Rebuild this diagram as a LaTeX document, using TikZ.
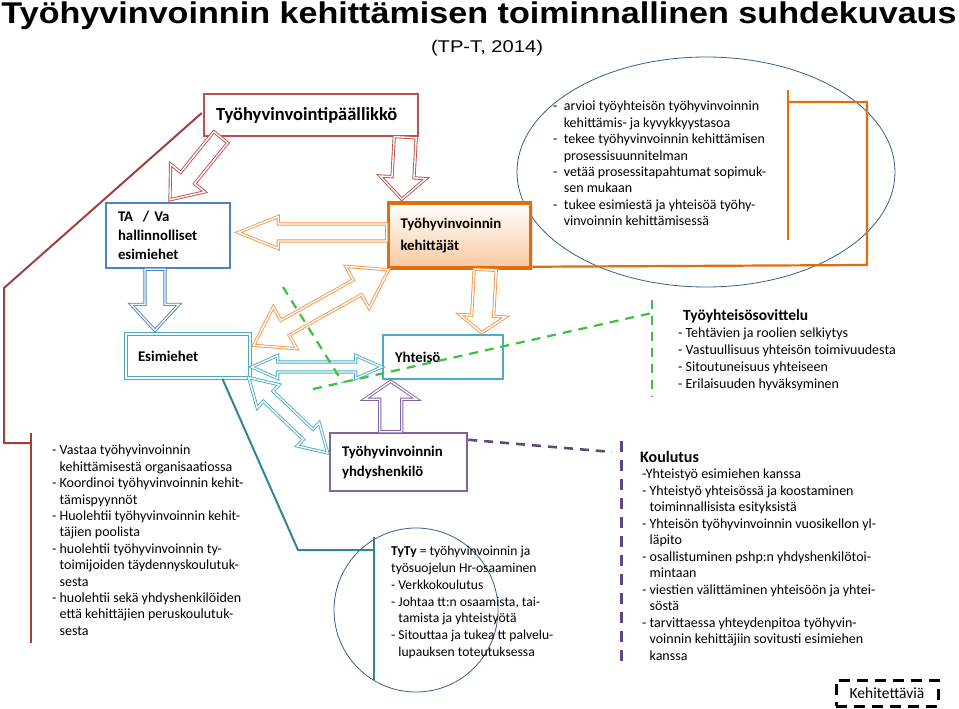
\documentclass[tikz,border=0pt]{standalone}
\usepackage{fontspec,graphicx}
\setmainfont{Carlito}
\newfontfamily\headfont{Liberation Sans}
\usetikzlibrary{calc,shadows}
\definecolor{BossRed}{HTML}{C0504D}
\definecolor{LineRed}{HTML}{A0403D}
\definecolor{TaBlue}{HTML}{4F81BD}
\definecolor{DevOrange}{HTML}{E46C0A}
\definecolor{ArrOrange}{HTML}{F79646}
\definecolor{DevFill}{HTML}{FAC9A0}
\definecolor{Teal}{HTML}{4BACC6}
\definecolor{TealDark}{HTML}{31849B}
\definecolor{Lilac}{HTML}{8064A2}
\definecolor{LilacDark}{HTML}{5F497A}
\definecolor{DashGreen}{HTML}{3EC03E}
\definecolor{EllBlue}{HTML}{385D8A}
\tikzset{box/.style={draw,line width=2.5pt,fill=white,inner xsep=12pt,align=left,
font=\fontsize{14.8}{19}\selectfont\bfseries},
listtext/.style={anchor=north west,inner sep=0pt,align=left,font=\fontsize{14}{16.4}\selectfont},
hollow/.style={line width=0.9pt,double=white,double distance=1.4pt,fill=white,line join=miter},
link/.style={line width=2.2pt},
dashlink/.style={line width=2.2pt,dash pattern=on 9pt off 7pt}}
% outlined block arrow: style, from, to, shaft half width, head half width, head length
\newcommand{\blockarrow}[6]{%
\draw[hollow,#1] ($(#2)!#4!90:(#3)$) -- ($(#3)!#6!(#2)!#4!-90:(#2)$) -- ($(#3)!#6!(#2)!#5!-90:(#2)$)
 -- (#3) -- ($(#3)!#6!(#2)!#5!90:(#2)$) -- ($(#3)!#6!(#2)!#4!90:(#2)$) -- ($(#2)!#4!-90:(#3)$) -- cycle;}
\newcommand{\dblarrow}[6]{%
\draw[hollow,#1] (#2) -- ($(#2)!#6!(#3)!#5!90:(#3)$) -- ($(#2)!#6!(#3)!#4!90:(#3)$)
 -- ($(#3)!#6!(#2)!#4!-90:(#2)$) -- ($(#3)!#6!(#2)!#5!-90:(#2)$) -- (#3)
 -- ($(#3)!#6!(#2)!#5!90:(#2)$) -- ($(#3)!#6!(#2)!#4!90:(#2)$)
 -- ($(#2)!#6!(#3)!#4!-90:(#3)$) -- ($(#2)!#6!(#3)!#5!-90:(#3)$) -- cycle;}
\begin{document}
\begin{tikzpicture}[x=1pt,y=-1pt]
\useasboundingbox (0,0) rectangle (959,709);
% heading
\node[anchor=base,inner sep=0pt] (title) at (479,24)
 {\resizebox{955pt}{\height}{\headfont\bfseries\fontsize{30}{30}\selectfont Työhyvinvoinnin kehittämisen toiminnallinen suhdekuvaus}};
\node[anchor=base,inner sep=0pt] (subtitle) at (487,53)
 {\resizebox{112pt}{\height}{\headfont\fontsize{17}{17}\selectfont (TP-T, 2014)}};
% ellipses
\draw[EllBlue,line width=0.8pt] (706,172) ellipse [x radius=189,y radius=115];
\draw[EllBlue,line width=0.8pt] (416,610) ellipse [x radius=82,y radius=82];
% boxes
\node[box,draw=BossRed,minimum width=214pt,minimum height=42pt,text width=190pt,font=\fontsize{18.5}{20}\selectfont\bfseries] (boss) at (311,115) {Työhyvinvointipäällikkö};
\node[box,draw=TaBlue,minimum width=122pt,minimum height=65pt,text width=100pt] (ta) at (168,235.5) {TA \ / Va\\hallinnolliset\\esimiehet};
\node[box,draw=DevOrange,line width=3.5pt,top color=white,bottom color=DevFill,drop shadow={opacity=0.25},
 minimum width=141pt,minimum height=65pt,text width=118pt,font=\fontsize{14.8}{22}\selectfont\bfseries] (dev) at (459.5,235.5) {Työhyvinvoinnin\\kehittäjät};
\node[box,draw=Teal,line width=1.3pt,double=white,double distance=1.6pt,minimum width=124pt,minimum height=44pt,text width=100pt] (esi) at (188,356) {Esimiehet};
\node[box,draw=Teal,minimum width=120pt,minimum height=44pt,text width=96pt] (yht) at (443,357) {Yhteisö\\[4pt]};
\node[box,draw=Lilac,minimum width=137pt,minimum height=58pt,text width=113pt,font=\fontsize{14.8}{20}\selectfont\bfseries] (yhd) at (398.5,462) {Työhyvinvoinnin\\yhdyshenkilö};
\node[draw=black,line width=3pt,dash pattern=on 11pt off 7pt,minimum width=102pt,minimum height=26pt,
 font=\fontsize{15.5}{16}\selectfont] (keh) at (887,693) {Kehitettäviä};
% anchor points of the block arrows
\coordinate (r1a) at ($(boss.south west)+(18,0)$);
\coordinate (r1b) at ($(ta.north)+(2,-2)$);
\coordinate (r2a) at ($(boss.south east)+(-14,0)$);
\coordinate (r2b) at ($(dev.north west)+(15,-2)$);
\coordinate (o1a) at ($(dev.west)+(0,-3)$);
\coordinate (o1b) at ($(ta.east)+(7,-3)$);
\coordinate (b1a) at ($(ta.south)+(-13,0)$);
\coordinate (b1b) at ($(esi.north)+(-33,-3)$);
\coordinate (o2a) at ($(esi.north east)+(3,12)$);
\coordinate (o2b) at ($(dev.south west)+(2,0)$);
\coordinate (o3a) at ($(dev.south east)+(-47,0)$);
\coordinate (o3b) at ($(yht.north west)+(100,-1)$);
\coordinate (t1a) at ($(esi.east)+(1,11)$);
\coordinate (t1b) at ($(yht.west)+(0,10)$);
\coordinate (t2a) at ($(esi.south east)+(-2,-1)$);
\coordinate (t2b) at ($(yhd.west)+(-1,-9)$);
\coordinate (p1a) at ($(yhd.north west)+(62,0)$);
\coordinate (p1b) at ($(yht.south west)+(9,1)$);
% block arrows
\blockarrow{draw=BossRed}{r1a}{r1b}{9pt}{22pt}{28pt}
\blockarrow{draw=BossRed}{r2a}{r2b}{11pt}{23pt}{22pt}
\blockarrow{draw=ArrOrange}{o1a}{o1b}{8.5pt}{16pt}{40pt}
\blockarrow{draw=TaBlue}{b1a}{b1b}{10pt}{24pt}{26pt}
\dblarrow{draw=ArrOrange}{o2a}{o2b}{8.5pt}{24pt}{36pt}
\blockarrow{draw=ArrOrange}{o3a}{o3b}{11pt}{23pt}{17pt}
\dblarrow{draw=Teal}{t1a}{t1b}{5pt}{11.5pt}{26pt}
\dblarrow{draw=Teal}{t2a}{t2b}{7pt}{16pt}{27pt}
\blockarrow{draw=Lilac}{p1a}{p1b}{11pt}{26pt}{18pt}
% connecting lines and brackets
\coordinate (rl1) at (4,288);
\coordinate (rl2) at (4,443);
\coordinate (rl3) at (31,443);
\draw[link,LineRed,line width=2pt] ($(boss.west)+(-1,-2)$) -- (rl1) -- (rl2) -- (rl3);
\draw[link,LineRed] (31,433) -- (31,643);
\coordinate (tl1) at (298,550);
\coordinate (tl2) at (374,550);
\draw[link,TealDark,line width=2pt] ($(esi.south west)+(97,0)$) -- (tl1) -- (tl2);
\draw[link,TealDark] (374,537) -- (374,680);
\coordinate (ol1) at (867,265);
\coordinate (ol2) at (867,102);
\coordinate (ol3) at (788,102);
\draw[link,DevOrange] ($(dev.south east)+(0,-3)$) -- (ol1) -- (ol2) -- (ol3);
\draw[link,DevOrange,line width=2.6pt] (788,90) -- (788,240);
\draw[dashlink,DashGreen] (283,287) -- (343,383);
\draw[dashlink,DashGreen] (313,389) -- (652,313);
\draw[dashlink,DashGreen] (652,300) -- (652,397);
\coordinate (pl1) at (612,452);
\draw[dashlink,LilacDark,line width=2.6pt] ($(yhd.north east)+(0,8)$) -- (pl1);
\draw[dashlink,LilacDark,line width=3pt,dash pattern=on 11pt off 8pt] (621,441) -- (621,663);
% texts
\node[listtext] (devtasks) at (553,101) {- \ arvioi työyhteisön työhyvinvoinnin\\
\phantom{- \ }kehittämis- ja kyvykkyystasoa\\
- \ tekee työhyvinvoinnin kehittämisen\\
\phantom{- \ }prosessisuunnitelman\\
- \ vetää prosessitapahtumat sopimuk-\\
\phantom{- \ }sen mukaan\\
- \ tukee esimiestä ja yhteisöä työhy-\\
\phantom{- \ }vinvoinnin kehittämisessä};
\node[listtext] (bosstasks) at (52,445) {- Vastaa työhyvinvoinnin\\
\phantom{- }kehittämisestä organisaatiossa\\
- Koordinoi työhyvinvoinnin kehit-\\
\phantom{- }tämispyynnöt\\
- Huolehtii työhyvinvoinnin kehit-\\
\phantom{- }täjien poolista\\
- huolehtii työhyvinvoinnin ty-\\
\phantom{- }toimijoiden täydennyskoulutuk-\\
\phantom{- }sesta\\
- huolehtii sekä yhdyshenkilöiden\\
\phantom{- }että kehittäjien peruskoulutuk-\\
\phantom{- }sesta};
\node[listtext,font=\fontsize{14}{17}\selectfont] (sovittelu) at (678,309) {\hspace*{5pt}{\fontsize{15.5}{17}\selectfont\bfseries Työyhteisösovittelu}\\
- Tehtävien ja roolien selkiytys\\
- Vastuullisuus yhteisön toimivuudesta\\
- Sitoutuneisuus yhteiseen\\
- Erilaisuuden hyväksyminen};
\node[listtext,font=\fontsize{14}{16.5}\selectfont] (koulutus) at (640,451) {{\fontsize{16}{17}\selectfont\bfseries Koulutus}\\
\hspace*{2pt}-Yhteistyö esimiehen kanssa\\
\hspace*{2pt}- Yhteistyö yhteisössä ja koostaminen\\
\hspace*{2pt}\phantom{- }toiminnallisista esityksistä\\
\hspace*{2pt}- Yhteisön työhyvinvoinnin vuosikellon yl-\\
\hspace*{2pt}\phantom{- }läpito\\
\hspace*{2pt}- osallistuminen pshp:n yhdyshenkilötoi-\\
\hspace*{2pt}\phantom{- }mintaan\\
\hspace*{2pt}- viestien välittäminen yhteisöön ja yhtei-\\
\hspace*{2pt}\phantom{- }söstä\\
\hspace*{2pt}- tarvittaessa yhteydenpitoa työhyvin-\\
\hspace*{2pt}\phantom{- }voinnin kehittäjiin sovitusti esimiehen\\
\hspace*{2pt}\phantom{- }kanssa};
\node[listtext,font=\fontsize{13.6}{16.8}\selectfont] (tyty) at (391,546) {{\bfseries TyTy} = työhyvinvoinnin ja\\
työsuojelun Hr-osaaminen\\
- Verkkokoulutus\\
- Johtaa tt:n osaamista, tai-\\
\phantom{- }tamista ja yhteistyötä\\
- Sitouttaa ja tukea tt palvelu-\\
\phantom{- }lupauksen toteutuksessa};
\end{tikzpicture}
\end{document}
